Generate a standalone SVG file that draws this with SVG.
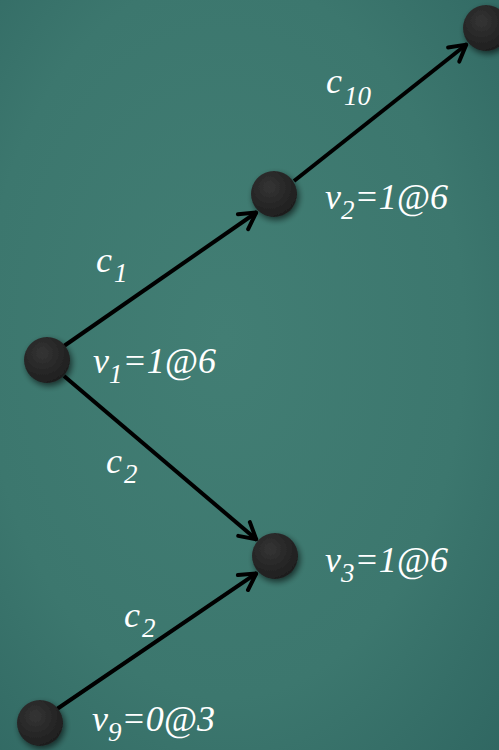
<svg xmlns="http://www.w3.org/2000/svg" width="499" height="750" viewBox="0 0 499 750">
<defs>
<radialGradient id="bg" cx="0.45" cy="0.45" r="0.8">
<stop offset="0" stop-color="#427e74"/>
<stop offset="0.6" stop-color="#3c776e"/>
<stop offset="1" stop-color="#2f6661"/>
</radialGradient>
<radialGradient id="ball" cx="0.4" cy="0.35" r="0.7">
<stop offset="0" stop-color="#343434"/>
<stop offset="1" stop-color="#1d1d1d"/>
</radialGradient>
<filter id="sh" x="-50%" y="-50%" width="200%" height="200%">
<feGaussianBlur in="SourceAlpha" stdDeviation="3"/>
<feOffset dx="2" dy="3" result="b"/>
<feComponentTransfer><feFuncA type="linear" slope="0.6"/></feComponentTransfer>
<feMerge><feMergeNode/><feMergeNode in="SourceGraphic"/></feMerge>
</filter>
<marker id="arr" viewBox="0 0 24 24" refX="21" refY="12" markerWidth="24" markerHeight="24" markerUnits="userSpaceOnUse" orient="auto">
<polyline points="4,3 20,12 4,21" fill="none" stroke="#000" stroke-width="4" stroke-linecap="round" stroke-linejoin="round"/>
</marker>
<style>
.n{fill:url(#ball);filter:url(#sh)}
.e{stroke:#000;stroke-width:4;fill:none}
.t{font-family:"Liberation Serif","Times New Roman",serif;font-style:italic;fill:#fff;font-size:36px}
.s{font-size:27px}
</style>
</defs>
<rect width="499" height="750" fill="url(#bg)"/>
<g id="connectors">
<line class="e" x1="64" y1="346" x2="257" y2="212" marker-end="url(#arr)"/>
<line class="e" x1="294" y1="181" x2="467" y2="44" marker-end="url(#arr)"/>
<line class="e" x1="64" y1="376" x2="257" y2="540" marker-end="url(#arr)"/>
<line class="e" x1="57" y1="709" x2="257" y2="573" marker-end="url(#arr)"/>
</g>
<g id="v1"><circle class="n" cx="47" cy="360" r="23"/><text class="t" x="93" y="373">v<tspan class="s" dy="10">1</tspan><tspan dy="-10">=1@6</tspan></text></g>
<g id="v2"><circle class="n" cx="274" cy="194" r="23"/><text class="t" x="325" y="209">v<tspan class="s" dy="10">2</tspan><tspan dy="-10">=1@6</tspan></text></g>
<g id="vtop"><circle class="n" cx="486" cy="28" r="23"/></g>
<g id="v3"><circle class="n" cx="275" cy="556" r="23"/><text class="t" x="325" y="572">v<tspan class="s" dy="10">3</tspan><tspan dy="-10">=1@6</tspan></text></g>
<g id="v9"><circle class="n" cx="40" cy="723" r="23"/><text class="t" x="92" y="731">v<tspan class="s" dy="10">9</tspan><tspan dy="-10">=0@3</tspan></text></g>
<g id="labels">
<text class="t" x="96" y="272">c<tspan class="s" dx="2" dy="10">1</tspan></text>
<text class="t" x="106" y="473">c<tspan class="s" dx="2" dy="10">2</tspan></text>
<text class="t" x="124" y="627">c<tspan class="s" dx="2" dy="10">2</tspan></text>
<text class="t" x="326" y="93">c<tspan class="s" dx="2" dy="12">10</tspan></text>
</g>
</svg>
